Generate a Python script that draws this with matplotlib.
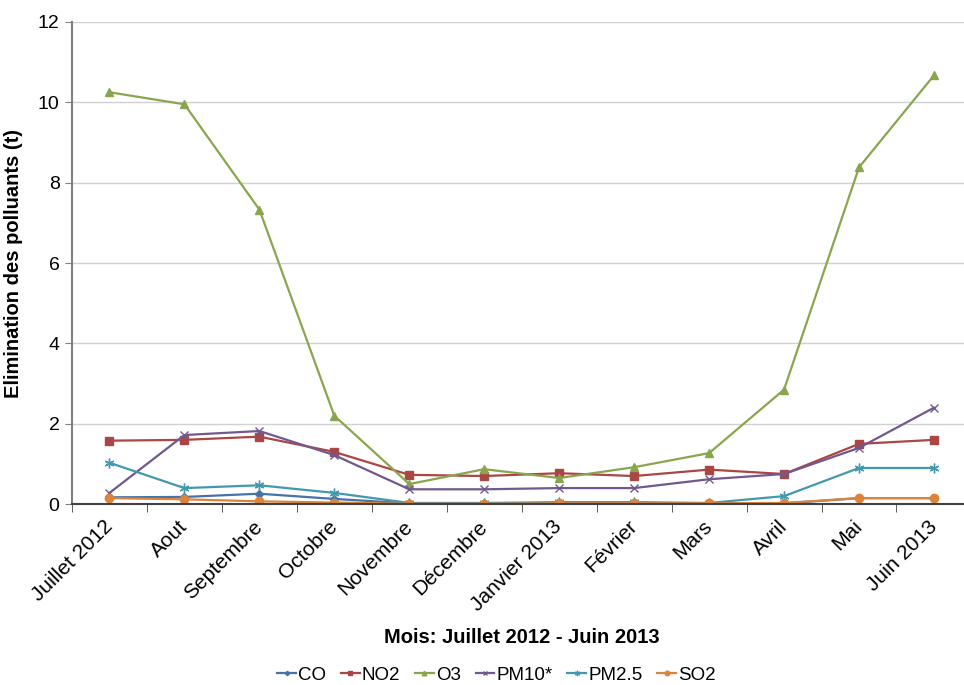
import matplotlib
matplotlib.use('Agg')
import matplotlib.pyplot as plt

plt.rcParams['font.family'] = ['Liberation Sans', 'DejaVu Sans']

# Mois et valeurs (t)
mois = ['Juillet 2012', 'Aout', 'Septembre', 'Octobre', 'Novembre', 'Décembre',
        'Janvier 2013', 'Février', 'Mars', 'Avril', 'Mai', 'Juin 2013']
co = [0.17, 0.18, 0.26, 0.13, 0.02, 0.02, 0.03, 0.03, 0.02, 0.02, 0.15, 0.15]
no2 = [1.58, 1.6, 1.68, 1.3, 0.73, 0.7, 0.77, 0.7, 0.86, 0.75, 1.5, 1.6]
o3 = [10.25, 9.95, 7.33, 2.2, 0.5, 0.87, 0.65, 0.92, 1.27, 2.85, 8.38, 10.67]
pm10 = [0.28, 1.72, 1.82, 1.22, 0.37, 0.37, 0.4, 0.4, 0.62, 0.75, 1.4, 2.4]
pm25 = [1.03, 0.4, 0.47, 0.28, 0.03, 0.03, 0.05, 0.05, 0.03, 0.2, 0.9, 0.9]
so2 = [0.15, 0.12, 0.07, 0.04, 0.01, 0.01, 0.02, 0.02, 0.02, 0.03, 0.15, 0.15]

series = [
    ('CO', co, '#4572A7', 'D', 4),
    ('NO2', no2, '#AA4643', 's', 6),
    ('O3', o3, '#89A54E', '^', 6),
    ('PM10*', pm10, '#71588F', 'x', 6),
    ('PM2.5', pm25, '#4198AF', (6, 2, 0), 7),
    ('SO2', so2, '#DB843D', 'o', 6),
]

fig = plt.figure(figsize=(9.64, 6.85), dpi=100)
ax = fig.add_axes([0.0747, 0.264, 0.933, 0.704])

x = list(range(len(mois)))
for nom, vals, c, m, ms in series:
    ax.plot(x, vals, color=c, marker=m, markersize=ms, linewidth=1.6, label=nom)

ax.set_xlim(-0.5, len(mois) - 0.5)
ax.set_ylim(0, 12)
ax.set_yticks(range(0, 13, 2))
ax.yaxis.grid(True, color='#d0d0d0', linewidth=1)
ax.set_axisbelow(True)

ax.set_xticks(x)
ax.set_xticklabels(mois, rotation=45, ha='right', va='center', rotation_mode='anchor', fontsize=15)
ax.tick_params(axis='x', length=0, pad=14)
ax.set_xticks([i - 0.5 for i in range(len(mois) + 1)], minor=True)
ax.tick_params(axis='x', which='minor', length=6, color='#404040', direction='out')
ax.tick_params(axis='y', labelsize=14, length=5, color='#808080', pad=4)

for s in ['top', 'right']:
    ax.spines[s].set_visible(False)
ax.spines['left'].set_color('#808080')
ax.spines['left'].set_linewidth(1.5)
ax.spines['bottom'].set_color('#404040')
ax.spines['bottom'].set_linewidth(1.5)

ax.set_ylabel('Elimination des polluants (t)', fontsize=14.5, fontweight='bold')
ax.yaxis.set_label_coords(-0.055, 0.5)
ax.set_xlabel('Mois: Juillet 2012 - Juin 2013', fontsize=14.5, fontweight='bold', va='center')
ax.xaxis.set_label_coords(0.5, -0.276)

fig.legend(loc='center', bbox_to_anchor=(0.515, 0.014), ncol=6, frameon=False,
           fontsize=13.5, handlelength=1.0, handletextpad=0.1, columnspacing=0.8,
           markerscale=0.55)

fig.savefig('out.png', dpi=100)
